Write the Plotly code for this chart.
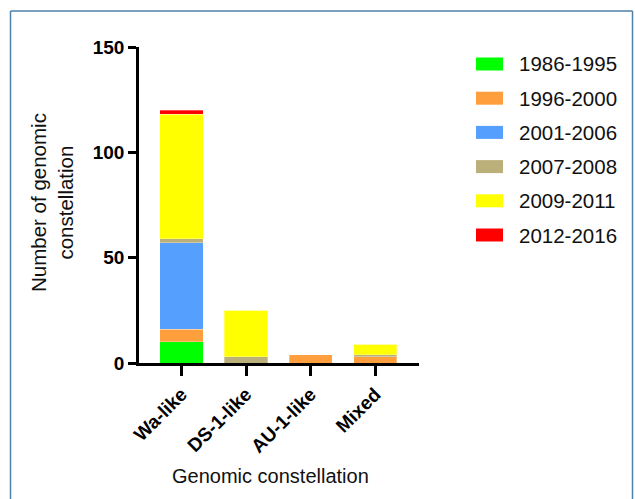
import plotly.graph_objects as go

categories = ["Wa-like", "DS-1-like", "AU-1-like", "Mixed"]
periods = ["1986-1995", "1996-2000", "2001-2006", "2007-2008", "2009-2011", "2012-2016"]
colors = ["#00FF00", "#FF9E3D", "#559FFF", "#BBB07A", "#FFFF00", "#FF0000"]
values = {
    "1986-1995": [10, 0, 0, 0],
    "1996-2000": [6, 0, 4, 3],
    "2001-2006": [41, 0, 0, 0],
    "2007-2008": [2, 3, 0, 1],
    "2009-2011": [59, 22, 0, 5],
    "2012-2016": [2, 0, 0, 0],
}
y_ticks = [0, 50, 100, 150]

FONT = "Arial, Liberation Sans, Helvetica, sans-serif"

fig = go.Figure()
for p, c in zip(periods, colors):
    fig.add_trace(go.Bar(
        x=categories, y=values[p], name=p,
        marker=dict(color=c, line=dict(color="rgba(255,255,255,0.6)", width=0.5)),
        width=0.67, showlegend=False,
    ))

W, H = 635, 499
L, R, T, B = 139, 419, 47, 363
pw, ph = R - L, B - T

def px(x):
    return (x - L) / pw

def py(y):
    return (B - y) / ph

shapes = []
annotations = []
leg_y0 = 64
leg_dy = 34.2
for i, (p, c) in enumerate(zip(periods, colors)):
    yc = leg_y0 + i * leg_dy
    shapes.append(dict(type="rect", xref="paper", yref="paper",
                       x0=px(476), x1=px(503), y0=py(yc + 6.5), y1=py(yc - 6.5),
                       fillcolor=c, line=dict(width=0)))
    annotations.append(dict(xref="paper", yref="paper", x=px(517), y=py(yc),
                            xanchor="left", yanchor="middle", text=p, showarrow=False,
                            font=dict(family=FONT, size=20.5, color="#111")))

# outer border
bc = dict(color="#4F81A8", width=1.5)
shapes.append(dict(type="line", xref="paper", yref="paper",
                   x0=px(10.5), x1=px(10.5), y0=py(520), y1=py(11), line=bc))
shapes.append(dict(type="line", xref="paper", yref="paper",
                   x0=px(10.5), x1=px(632.5), y0=py(11), y1=py(11), line=bc))
shapes.append(dict(type="line", xref="paper", yref="paper",
                   x0=px(632.5), x1=px(632.5), y0=py(520), y1=py(11), line=bc))

annotations.append(dict(xref="paper", yref="paper", x=px(52), y=py(203),
                        xanchor="center", yanchor="middle", textangle=-90,
                        text="Number of genomic<br>constellation", showarrow=False,
                        font=dict(family=FONT, size=20.5, color="#111")))
annotations.append(dict(xref="paper", yref="paper", x=px(270), y=py(476),
                        xanchor="center", yanchor="middle",
                        text="Genomic constellation", showarrow=False,
                        font=dict(family=FONT, size=20, color="#111")))

fig.update_layout(
    barmode="stack",
    width=W, height=H,
    margin=dict(l=L, r=W - R, t=T, b=H - B, pad=0),
    paper_bgcolor="white", plot_bgcolor="white",
    shapes=shapes, annotations=annotations,
    showlegend=False,
    xaxis=dict(
        range=[-0.66, 3.68], showgrid=False, zeroline=False,
        showline=True, linecolor="black", linewidth=2.5,
        ticks="outside", ticklen=10, tickwidth=2.5, tickcolor="black",
        tickangle=-45,
        tickfont=dict(family=FONT, size=19, color="black", weight="bold"),
    ),
    yaxis=dict(
        range=[0, 150], showgrid=False, zeroline=False,
        showline=True, linecolor="black", linewidth=2.5,
        ticks="outside", ticklen=8, tickwidth=2.5, tickcolor="black",
        tickvals=y_ticks, ticktext=[str(v) for v in y_ticks],
        tickfont=dict(family=FONT, size=19, color="black", weight="bold"),
    ),
)

fig.write_html(
    "out.html",
    config={"displayModeBar": False},
    post_script="document.body.style.margin='0';document.body.style.overflow='hidden';",
)
